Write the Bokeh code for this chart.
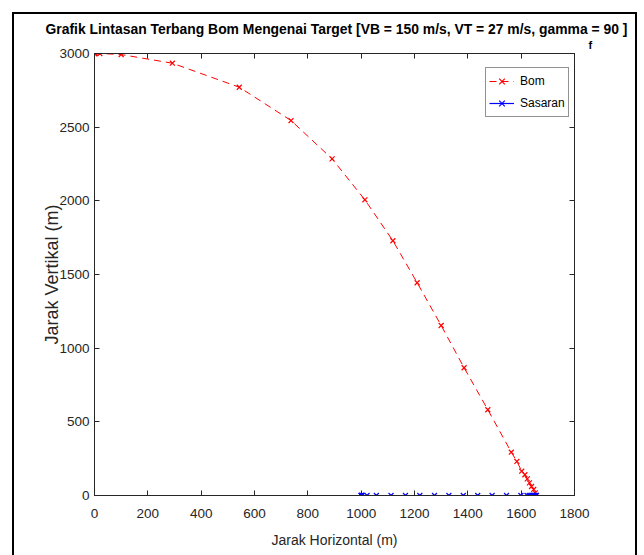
from bokeh.plotting import figure
from bokeh.models import LinearAxis, Range1d, Legend, LegendItem, FixedTicker, Title
from bokeh.embed import file_html
from bokeh.resources import INLINE

# Bomb trajectory (horizontal / vertical distance, m)
bom_x = [0, 1, 4, 20, 100, 292, 543, 737, 891, 1014, 1119, 1210, 1300, 1386,
         1475, 1563, 1584, 1602, 1614, 1623, 1631, 1639, 1647, 1653, 1657]
bom_y = [3000, 3000, 3000, 3000, 2993, 2934, 2771, 2545, 2285, 2007, 1729,
         1444, 1154, 867, 582, 294, 231, 165, 141, 113, 86, 61, 41, 18, 0]

# Ground target track
sasaran_x = [1000, 1000, 1001, 1004, 1022, 1057, 1112, 1166, 1220, 1275,
             1329, 1383, 1437, 1491, 1545, 1599, 1622, 1630, 1637, 1643,
             1647, 1651, 1654, 1657]
sasaran_y = [0] * len(sasaran_x)

x_ticks = [0, 200, 400, 600, 800, 1000, 1200, 1400, 1600, 1800]
y_ticks = [0, 500, 1000, 1500, 2000, 2500, 3000]

title_main = "Grafik Lintasan Terbang Bom Mengenai Target [VB = 150 m/s, VT = 27 m/s, gamma   = 90 ]"
title_sub = "f"

FONT = "Liberation Sans"
AX = "#262626"

p = figure(width=625, height=560, x_range=Range1d(0, 1800), y_range=Range1d(0, 3000),
           output_backend="svg", toolbar_location=None,
           min_border_left=80, min_border_right=65, min_border_top=39, min_border_bottom=79)
p.margin = (12, 0, 0, 12)
p.styles = {"border": "2px solid black"}
p.grid.visible = False
p.outline_line_color = AX
p.background_fill_color = "white"
p.border_fill_color = "white"


def style_axis(ax, labels=True):
    ax.axis_line_color = AX
    ax.major_tick_line_color = AX
    ax.major_tick_in = 5
    ax.major_tick_out = 0
    ax.minor_tick_line_color = None
    if labels:
        ax.major_label_text_font = FONT
        ax.major_label_text_font_size = "13.5px"
        ax.major_label_text_color = AX
    else:
        ax.major_label_text_color = None
        ax.major_label_text_font_size = "4px"
        ax.major_label_standoff = 0


p.xaxis.ticker = FixedTicker(ticks=x_ticks)
p.yaxis.ticker = FixedTicker(ticks=y_ticks)
style_axis(p.xaxis[0])
style_axis(p.yaxis[0])
p.xaxis.major_label_standoff = 13
p.yaxis.major_label_standoff = 5
p.xaxis.axis_label = "Jarak Horizontal (m)"
p.xaxis.axis_label_text_font = FONT
p.xaxis.axis_label_text_font_size = "14px"
p.xaxis.axis_label_text_font_style = "normal"
p.xaxis.axis_label_text_color = AX
p.xaxis.axis_label_standoff = 11
p.yaxis.axis_label = "Jarak Vertikal (m)"
p.yaxis.axis_label_text_font = FONT
p.yaxis.axis_label_text_font_size = "18px"
p.yaxis.axis_label_text_font_style = "normal"
p.yaxis.axis_label_text_color = AX
p.yaxis.axis_label_standoff = -6

# Box ticks on top and right
top_ax = LinearAxis(ticker=FixedTicker(ticks=x_ticks))
right_ax = LinearAxis(ticker=FixedTicker(ticks=y_ticks))
style_axis(top_ax, labels=False)
style_axis(right_ax, labels=False)
top_ax.major_label_standoff = 2
p.add_layout(top_ax, "above")
p.add_layout(right_ax, "right")

# Subscript row of the title, tucked under the main title line
p.add_layout(Title(text=title_sub, align="left", offset=494, standoff=5,
                   text_font=FONT, text_font_style="bold", text_font_size="11px",
                   text_color="black"), "above")
p.title.text = title_main
p.title.align = "left"
p.title.offset = -49
p.title.standoff = -4
p.title.text_font = FONT
p.title.text_font_style = "bold"
p.title.text_font_size = "13.9px"
p.title.text_color = "black"

# Bomb path: red dashed line with x markers
r_line = p.line(bom_x, bom_y, line_color="#ff0000", line_width=1, line_dash="7 5")
r_pts = p.scatter(bom_x, bom_y, marker="x", size=7, line_color="#ff0000", line_width=1.2)

# Target path: blue solid line with x markers
b_line = p.line(sasaran_x, sasaran_y, line_color="#0000ff", line_width=1.2)
b_pts = p.scatter(sasaran_x, sasaran_y, marker="x", size=7, line_color="#0000ff", line_width=1.2)

legend = Legend(items=[LegendItem(label="Bom", renderers=[r_line, r_pts]),
                       LegendItem(label="Sasaran", renderers=[b_line, b_pts])],
                location=(391, 378), border_line_color=AX, border_line_width=1,
                background_fill_color="white", background_fill_alpha=1,
                label_text_font=FONT, label_text_font_size="12px", label_text_color="black",
                glyph_width=25, glyph_height=20, label_height=20, label_standoff=6,
                padding=3, spacing=2, margin=0)
p.add_layout(legend)

open("out.html", "w").write(file_html(p, INLINE))
